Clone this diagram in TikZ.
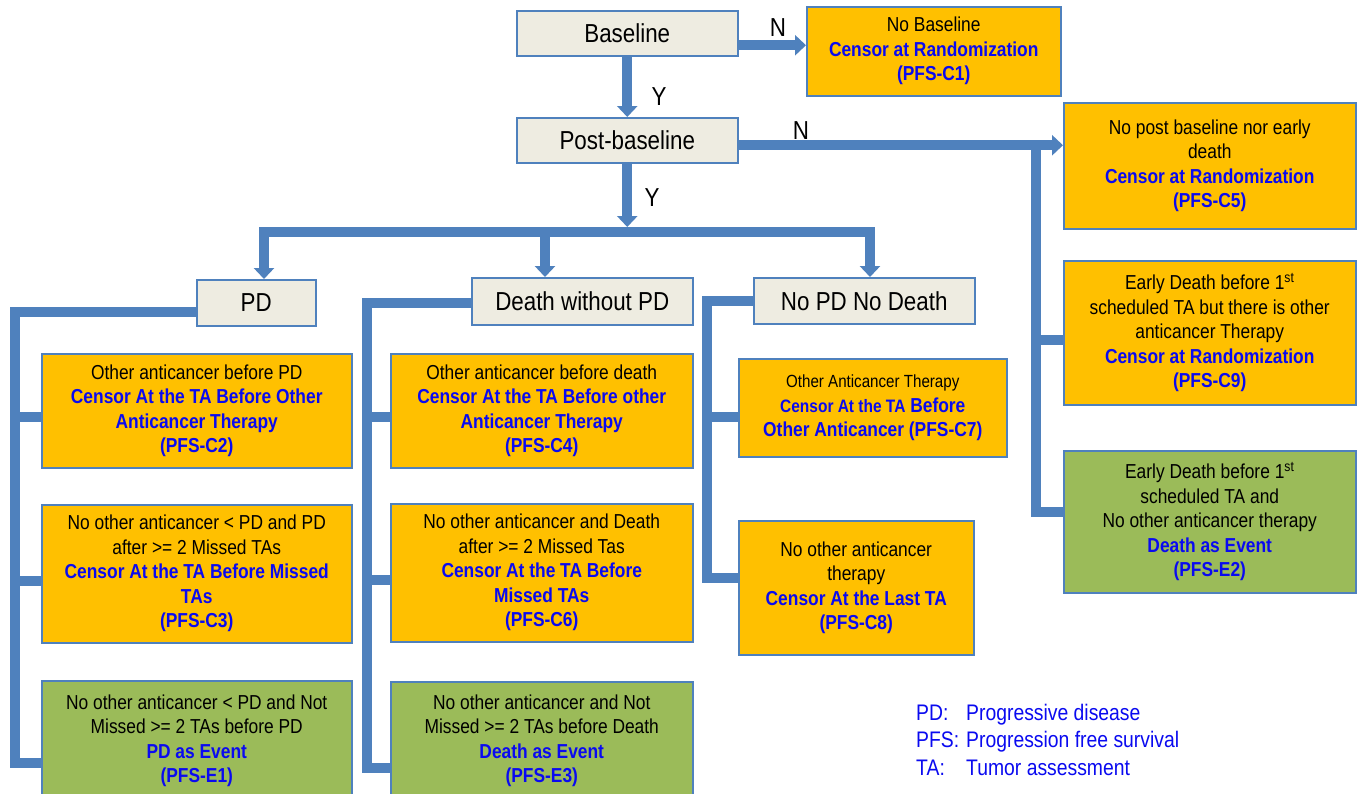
\documentclass[tikz,border=0pt]{standalone}
\usepackage{fontspec}
\setmainfont{Liberation Sans}[FakeStretch=0.86]
\usepackage{tikz}
\usetikzlibrary{arrows.meta,positioning,calc}
\definecolor{fcblue}{HTML}{4F81BD}
\definecolor{fcbeige}{HTML}{EEECE1}
\definecolor{fcorange}{HTML}{FFC000}
\definecolor{fcgreen}{HTML}{9BBB59}
\definecolor{fctext}{HTML}{0A0AF0}
\tikzset{
 catbox/.style={rectangle, draw=fcblue, fill=fcbeige, line width=1.5pt,
 font=\fontsize{26}{30}\selectfont, inner sep=0pt, anchor=north west},
 rulebox/.style={rectangle, draw=fcblue, fill=fcorange, line width=1.5pt,
 font=\fontsize{20.2}{24.5}\selectfont, align=center, inner sep=0pt,
 anchor=north west},
 eventbox/.style={rulebox, fill=fcgreen},
 flowline/.style={draw=fcblue, line width=10pt},
 flowarrow/.style={flowline, -{Triangle[width=20pt,length=11pt]}},
 ynlabel/.style={font=\fontsize{26}{30}\selectfont, inner sep=0pt},
 legend/.style={font=\fontsize{22.5}{27.5}\selectfont, text=fctext, inner sep=0pt},
}
\newcommand{\outcome}[1]{{\bfseries\color{fctext}#1}}

\begin{document}
\begin{tikzpicture}[x=1pt, y=-1pt]
\useasboundingbox (0,0) rectangle (1362,793);
\fill[white] (0,0) rectangle (1362,793);

% -- Top decisions ------------------------------------------
\node[catbox, minimum width=221pt, minimum height=45pt] (base) at (516,10) {Baseline};
\node[catbox, minimum width=221pt, minimum height=45pt] (post) at (516,117) {Post-baseline};

\node[rulebox, minimum width=254pt, minimum height=89pt] (nobase) at (806,6) {%
  No Baseline\\
  \outcome{Censor at Randomization}\\
  \outcome{(PFS-C1)}};

% -- Right column: no post baseline / early death -----------
\node[rulebox, minimum width=292pt, minimum height=126pt] (nopost) at (1063,102) {%
  No post baseline nor early\\
  death\\
  \outcome{Censor at Randomization}\\
  \outcome{(PFS-C5)}};
\node[rulebox, minimum width=292pt, minimum height=144pt] (earlyoth) at (1063,260) {%
  Early Death before 1\textsuperscript{st}\\
  scheduled TA but there is other\\
  anticancer Therapy\\
  \outcome{Censor at Randomization}\\
  \outcome{(PFS-C9)}};
\node[eventbox, minimum width=292pt, minimum height=142pt] (earlyno) at (1063,450) {%
  Early Death before 1\textsuperscript{st}\\
  scheduled TA and\\
  No other anticancer therapy\\
  \outcome{Death as Event}\\
  \outcome{(PFS-E2)}};

% -- Second level categories --------------------------------
\node[catbox, minimum width=119pt, minimum height=46pt] (pd) at (196,279) {PD};
\node[catbox, minimum width=221pt, minimum height=47pt] (death) at (471,277) {Death without PD};
\node[catbox, minimum width=221pt, minimum height=46pt] (nopd) at (753,277) {No PD No Death};

% -- PD branch ----------------------------------------------
\node[rulebox, minimum width=310pt, minimum height=114pt] (c2) at (41,353) {%
  Other anticancer before PD\\
  \outcome{Censor At the TA Before Other}\\
  \outcome{Anticancer Therapy}\\
  \outcome{(PFS-C2)}};
\node[rulebox, minimum width=310pt, minimum height=138pt] (c3) at (41,504) {%
  No other anticancer < PD and PD\\
  after >= 2 Missed TAs\\
  \outcome{Censor At the TA Before Missed}\\
  \outcome{TAs}\\
  \outcome{(PFS-C3)}};
\node[eventbox, minimum width=310pt, minimum height=120pt] (e1) at (41,680) {%
  No other anticancer < PD and Not\\
  Missed >= 2 TAs before PD\\
  \outcome{PD as Event}\\
  \outcome{(PFS-E1)}};

% -- Death branch -------------------------------------------
\node[rulebox, minimum width=302pt, minimum height=114pt] (c4) at (390,353) {%
  Other anticancer before death\\
  \outcome{Censor At the TA Before other}\\
  \outcome{Anticancer Therapy}\\
  \outcome{(PFS-C4)}};
\node[rulebox, minimum width=302pt, minimum height=138pt] (c6) at (390,503) {%
  No other anticancer and Death\\
  after >= 2 Missed Tas\\
  \outcome{Censor At the TA Before}\\
  \outcome{Missed TAs}\\
  \outcome{(PFS-C6)}};
\node[eventbox, minimum width=302pt, minimum height=118pt] (e3) at (390,681) {%
  No other anticancer and Not\\
  Missed >= 2 TAs before Death\\
  \outcome{Death as Event}\\
  \outcome{(PFS-E3)}};

% -- No PD no death branch ----------------------------------
\node[rulebox, minimum width=268pt, minimum height=98pt] (c7) at (738,358) {%
  {\fontsize{17.6}{23.5}\selectfont Other Anticancer Therapy}\\
  \outcome{{\fontsize{18}{23.5}\selectfont Censor At the TA} Before}\\
  \outcome{Other Anticancer (PFS-C7)}};
\node[rulebox, minimum width=235pt, minimum height=134pt] (c8) at (738,520) {%
  No other anticancer\\
  therapy\\
  \outcome{Censor At the Last TA}\\
  \outcome{(PFS-C8)}};

% -- Connectors ---------------------------------------------
\draw[flowarrow] ([yshift=-12pt]base.east) coordinate (nstart) -- (nstart -| nobase.west);
\draw[flowarrow] (base) -- (post);
\draw[flowarrow] ([yshift=-5pt]post.east) coordinate (pstart) -- (pstart -| nopost.west);

\coordinate (busL) at (264,232);
\coordinate (busD) at (545,232);
\coordinate (busR) at (870,232);
\draw[flowarrow, shorten >=5pt] (post.south) -- (post.south |- busL);
\draw[flowline, {Triangle[width=20pt,length=11pt]}-{Triangle[width=20pt,length=11pt]}]
  (busL |- pd.north) -- (busL) -- (busR) -- (busR |- nopd.north);
\draw[flowarrow] (busD) -- (busD |- death.north);

% right spine
\coordinate (spineR) at (1036,512);
\draw[flowline] (spineR |- pstart) -- (spineR) -- (spineR -| earlyno.west);
\draw[flowline] ([yshift=-7pt]earlyoth.west) coordinate (s9) -- (s9 -| spineR);

% PD spine
\coordinate (spinePD) at (15,763);
\draw[flowline] ([yshift=-9pt]pd.west) -| (spinePD) -- (spinePD -| e1.west);
\draw[flowline] ([yshift=-6pt]c2.west) coordinate (s2) -- (s2 -| spinePD);
\draw[flowline] ([yshift=-7pt]c3.west) coordinate (s3) -- (s3 -| spinePD);

% death spine
\coordinate (spineD) at (367,768);
\draw[flowline] ([yshift=-2pt]death.west) -| (spineD) -- (spineD -| e3.west);
\draw[flowline] ([yshift=-6pt]c4.west) coordinate (s4) -- (s4 -| spineD);
\draw[flowline] ([yshift=-7pt]c6.west) coordinate (s6) -- (s6 -| spineD);

% no PD spine
\coordinate (spineN) at (707,578);
\draw[flowline] (nopd.west) -| (spineN) -- (spineN -| c8.west);
\draw[flowline] ([yshift=-9pt]c7.west) coordinate (s7) -- (s7 -| spineN);

% Y / N labels
\node[ynlabel] (n1) at (778,28) {N};
\node[ynlabel] (y1) at (659,97) {Y};
\node[ynlabel] (n2) at (801,131) {N};
\node[ynlabel] (y2) at (652,198) {Y};

% -- Legend -------------------------------------------------
\node[legend, anchor=west] (abbr) at (916,742) {%
  \begin{tabular}{@{}l@{\hspace{7pt}}l@{}}
  PD: & Progressive disease\\
  PFS: & Progression free survival\\
  TA: & Tumor assessment
  \end{tabular}};

\end{tikzpicture}
\end{document}
